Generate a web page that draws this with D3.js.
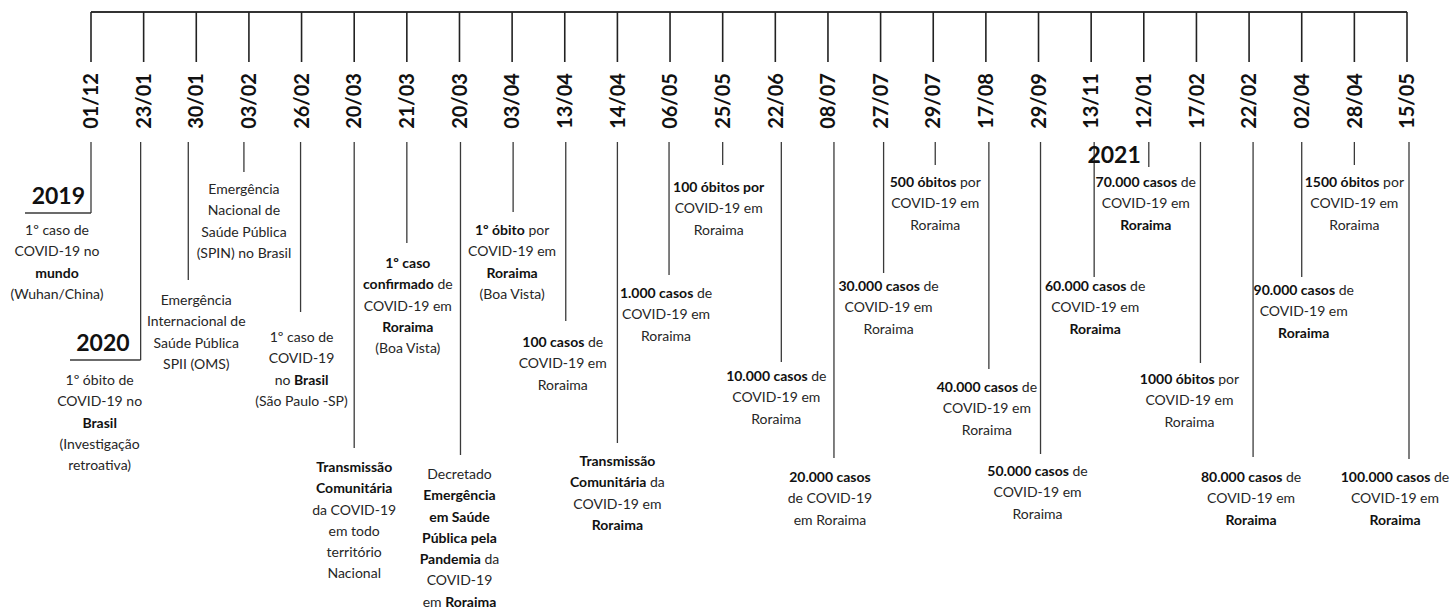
<!DOCTYPE html>
<html>
<head>
<meta charset="utf-8">
<script src="https://cdn.jsdelivr.net/npm/d3@7"></script>
<style>
  body { margin: 0; background: #fff; }
  svg { display: block; font-family: Lato, "Open Sans", sans-serif; }
</style>
</head>
<body>
<svg id="chart" width="1455" height="612"></svg>
<script>
// timeline dates (dd/mm), in the order they appear
var dates = ["01/12", "23/01", "30/01", "03/02", "26/02", "20/03", "21/03", "20/03", "03/04", "13/04",
  "14/04", "06/05", "25/05", "22/06", "08/07", "27/07", "29/07", "17/08", "29/09", "13/11",
  "12/01", "17/02", "22/02", "02/04", "28/04", "15/05"];

// event text, **...** = bold
var events = [
  ["1º caso de", "COVID-19 no", "**mundo**", "(Wuhan/China)"],
  ["1º óbito de", "COVID-19 no", "**Brasil**", "(Investigação", "retroativa)"],
  ["Emergência", "Internacional de", "Saúde Pública", "SPII (OMS)"],
  ["Emergência", "Nacional de", "Saúde Pública", "(SPIN) no Brasil"],
  ["1º caso de", "COVID-19", "no **Brasil**", "(São Paulo -SP)"],
  ["**Transmissão**", "**Comunitária**", "da COVID-19", "em todo", "território", "Nacional"],
  ["**1º caso**", "**confirmado** de", "COVID-19 em", "**Roraima**", "(Boa Vista)"],
  ["Decretado", "**Emergência**", "**em Saúde**", "**Pública pela**", "**Pandemia** da", "COVID-19", "em **Roraima**"],
  ["**1º óbito** por", "COVID-19 em", "**Roraima**", "(Boa Vista)"],
  ["**100 casos** de", "COVID-19 em", "Roraima"],
  ["**Transmissão**", "**Comunitária** da", "COVID-19 em", "**Roraima**"],
  ["**1.000 casos** de", "COVID-19 em", "Roraima"],
  ["**100 óbitos por**", "COVID-19 em", "Roraima"],
  ["**10.000 casos** de", "COVID-19 em", "Roraima"],
  ["**20.000 casos**", "de COVID-19", "em Roraima"],
  ["**30.000 casos** de", "COVID-19 em", "Roraima"],
  ["**500 óbitos** por", "COVID-19 em", "Roraima"],
  ["**40.000 casos** de", "COVID-19 em", "Roraima"],
  ["**50.000 casos** de", "COVID-19 em", "Roraima"],
  ["**60.000 casos** de", "COVID-19 em", "**Roraima**"],
  ["**70.000 casos** de", "COVID-19 em", "**Roraima**"],
  ["**1000 óbitos** por", "COVID-19 em", "Roraima"],
  ["**80.000 casos** de", "COVID-19 em", "**Roraima**"],
  ["**90.000 casos** de", "COVID-19 em", "**Roraima**"],
  ["**1500 óbitos** por", "COVID-19 em", "Roraima"],
  ["**100.000 casos** de", "COVID-19 em", "**Roraima**"]
];

// year markers: index of the event they sit beside
var yearLabels = ["2019", "2020", "2021"];
var yearIndex = [0, 1, 20];

// ---- layout (pixels) ----
// stem end y, stem x shift, text x shift, first text line y
var stemEnd = [213, 360, 280, 172, 312, 448, 243, 455, 212, 321, 443, 275, 165, 362, 458, 273, 165, 369, 454, 277, 167, 363, 457, 277, 165, 459];
var stemDx  = [0, -3, -8, -5, -1, 0, 0, 1, 1, 1, 0, -1, 0, 6, 6, 3, 2, 3, 2, 3, 5, 4, 4, 0, 0, 2];
var textDx  = [-34, -44, 0, -5, 0, 0, 1, 0, 0, -2, 0, -4, -4, 1, 2, 8, 2, 1, -1, 4, 2, -7, 2, 2, 0, -12];
var textY   = [230, 380, 300, 189, 337, 467, 263, 474, 230, 342, 461, 293, 187, 376, 477, 286, 182, 387, 471, 286, 182, 379, 477, 290, 182, 477];
// year label: right edge shift, baseline, underline start x (null = none)
var yearDx = [-6, -14, -3];
var yearBase = [204, 351, 163];
var yearLineX0 = [25, 70, null];

var lineH = 21.3;
var topY = 12, tickEnd = 62, labelMid = 101, stemTop = 142;

var svg = d3.select("#chart");
var x = d3.scalePoint().domain(d3.range(dates.length)).range([91, 1407]);

// main horizontal line
svg.append("line")
  .attr("x1", x(0)).attr("x2", x(dates.length - 1))
  .attr("y1", topY).attr("y2", topY)
  .attr("stroke", "#333").attr("stroke-width", 1.8);

// upper ticks
svg.selectAll(".tick").data(dates).enter().append("line")
  .attr("x1", function(d, i) { return x(i); })
  .attr("x2", function(d, i) { return x(i); })
  .attr("y1", topY).attr("y2", tickEnd)
  .attr("stroke", "#222").attr("stroke-width", 1.6);

// rotated date labels
svg.selectAll(".date").data(dates).enter().append("text")
  .attr("transform", function(d, i) { return "translate(" + x(i) + "," + labelMid + ") rotate(-90)"; })
  .attr("text-anchor", "middle")
  .attr("dy", "0.36em")
  .attr("font-size", 20)
  .attr("font-weight", "bold")
  .attr("fill", "#111")
  .text(function(d) { return d; });

// lower stems
svg.selectAll(".stem").data(dates).enter().append("line")
  .attr("x1", function(d, i) { return x(i) + stemDx[i]; })
  .attr("x2", function(d, i) { return x(i) + stemDx[i]; })
  .attr("y1", stemTop)
  .attr("y2", function(d, i) { return stemEnd[i]; })
  .attr("stroke", "#3a3a3a").attr("stroke-width", 1.3);

// event texts, one tspan per line, bold parts as nested tspans
events.forEach(function(lines, i) {
  var t = svg.append("text")
    .attr("text-anchor", "middle")
    .attr("font-size", 14)
    .attr("fill", "#262626");
  lines.forEach(function(line, j) {
    var segs = line.split(/(\*\*[^*]+\*\*)/).filter(function(s) { return s.length; });
    segs.forEach(function(seg, k) {
      var bold = seg.indexOf("**") === 0;
      var part = t.append("tspan");
      if (k === 0) {
        part.attr("x", x(i) + textDx[i])
          .attr("y", textY[i] + j * lineH)
          .attr("dy", "0.35em");
      }
      part.text(bold ? seg.slice(2, -2) : seg)
        .attr("font-weight", bold ? "bold" : null)
        .attr("fill", bold ? "#111" : null);
    });
  });
});

// year labels
yearLabels.forEach(function(lbl, k) {
  var i = yearIndex[k];
  var sx = x(i) + stemDx[i];
  svg.append("text")
    .attr("x", x(i) + yearDx[k])
    .attr("y", yearBase[k])
    .attr("text-anchor", "end")
    .attr("font-size", 23)
    .attr("font-weight", "bold")
    .attr("fill", "#111")
    .text(lbl);
  if (yearLineX0[k] !== null) {
    svg.append("line")
      .attr("x1", yearLineX0[k]).attr("x2", sx)
      .attr("y1", stemEnd[i]).attr("y2", stemEnd[i])
      .attr("stroke", "#3a3a3a").attr("stroke-width", 1.3);
  }
});
</script>
</body>
</html>
